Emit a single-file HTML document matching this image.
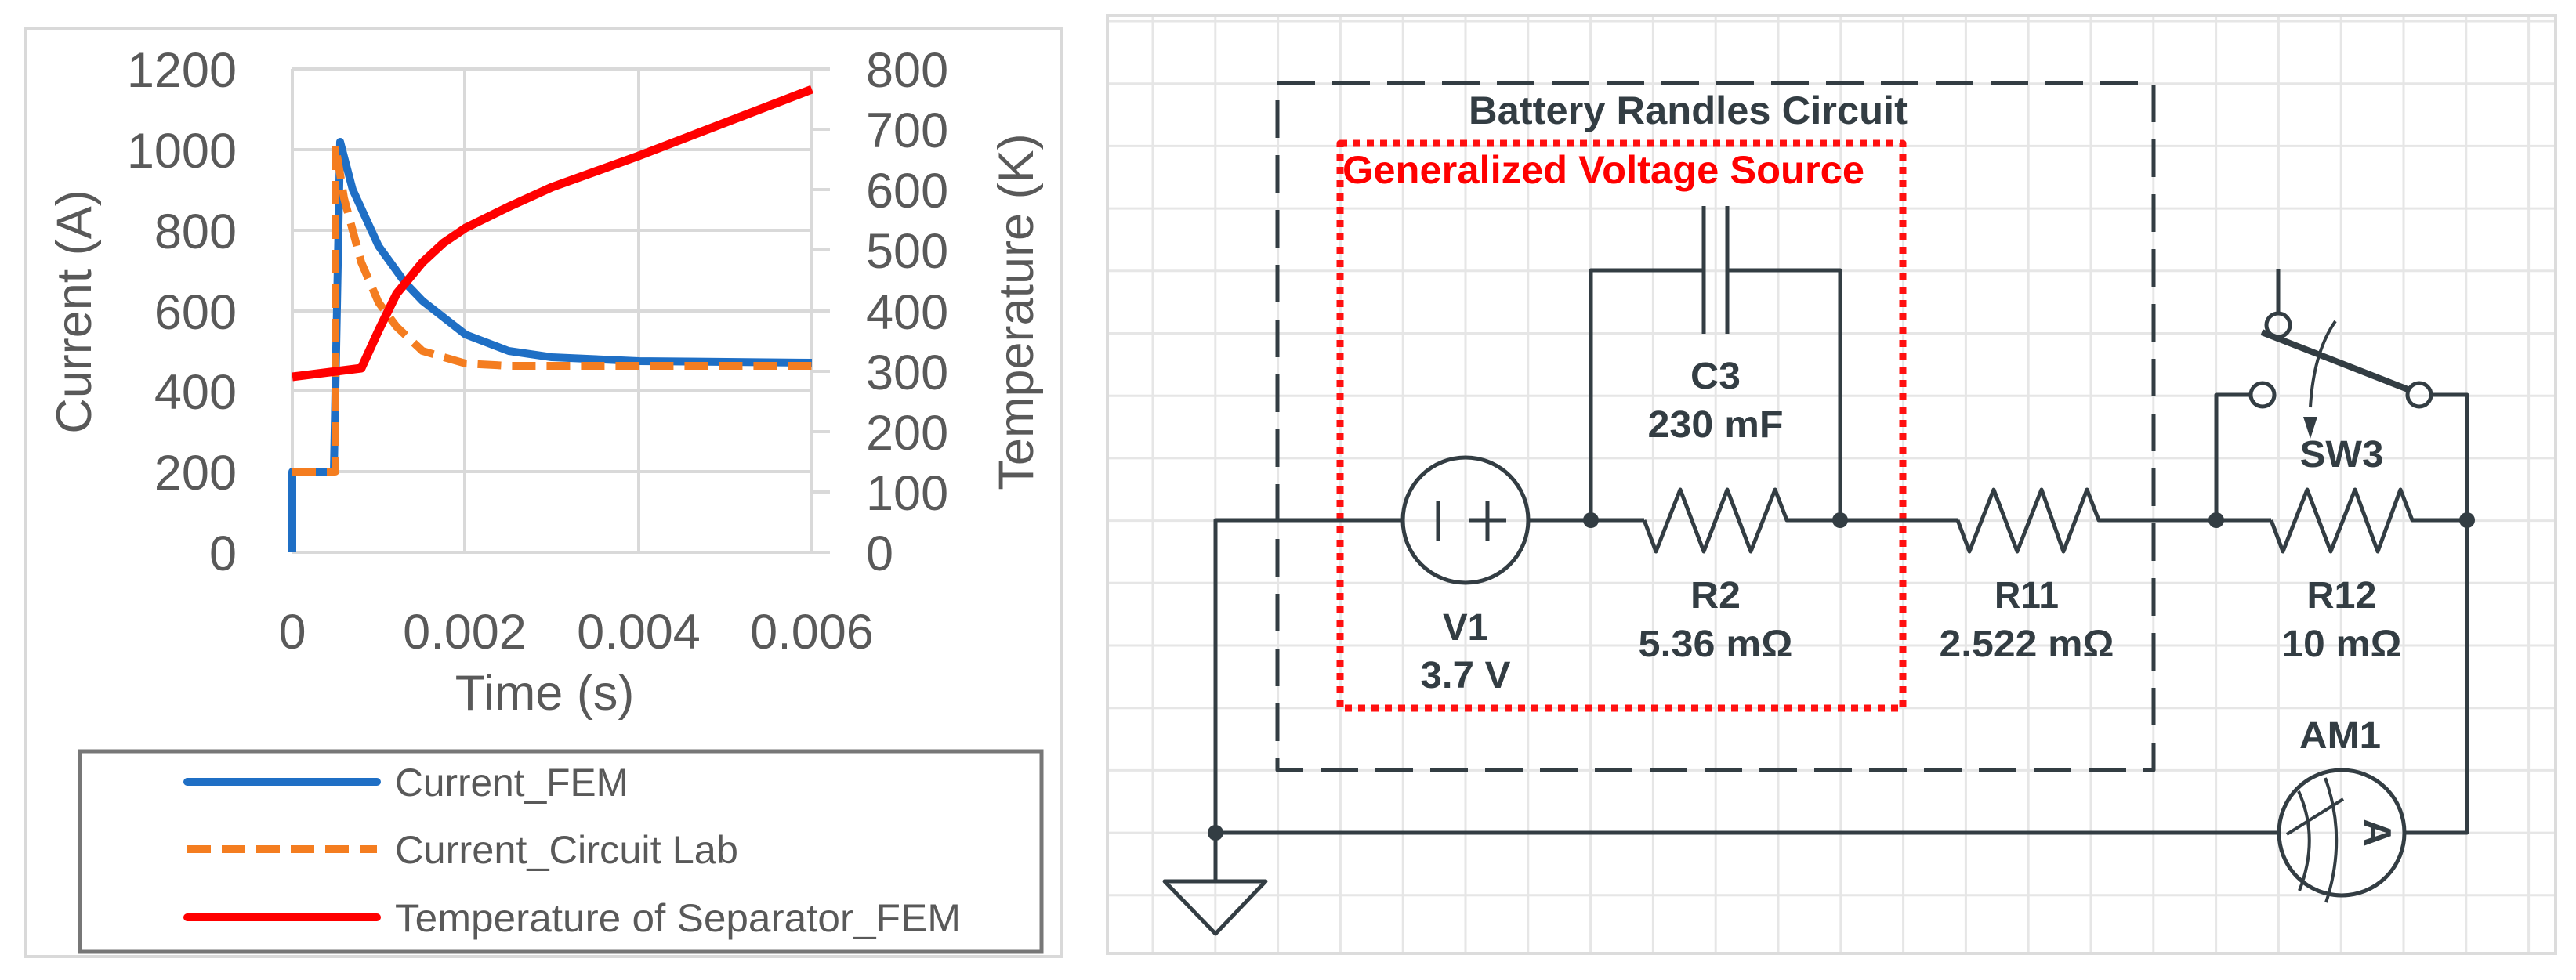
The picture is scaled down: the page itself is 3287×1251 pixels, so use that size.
<!DOCTYPE html>
<html><head><meta charset="utf-8"><style>
html,body{margin:0;padding:0;background:#fff;}
svg{display:block;}
.t{font-family:"Liberation Sans",Arial,sans-serif;fill:#595959;}
.c{font-family:"Liberation Sans Narrow","Liberation Sans",Arial,sans-serif;font-weight:bold;fill:#333d43;}
</style></head><body>
<svg width="3287" height="1251" viewBox="0 0 3287 1251" xmlns="http://www.w3.org/2000/svg">
<rect x="0" y="0" width="3287" height="1251" fill="#fff"/>
<rect x="32" y="36" width="1323" height="1185" fill="#fff" stroke="#d9d9d9" stroke-width="4"/>
<g stroke="#d9d9d9" stroke-width="4">
<line x1="373" y1="88" x2="1036" y2="88"/>
<line x1="373" y1="191" x2="1036" y2="191"/>
<line x1="373" y1="294" x2="1036" y2="294"/>
<line x1="373" y1="397" x2="1036" y2="397"/>
<line x1="373" y1="499" x2="1036" y2="499"/>
<line x1="373" y1="602" x2="1036" y2="602"/>
<line x1="373" y1="705" x2="1036" y2="705"/>
<line x1="373" y1="88" x2="373" y2="705"/>
<line x1="593" y1="88" x2="593" y2="705"/>
<line x1="815" y1="88" x2="815" y2="705"/>
<line x1="1036" y1="88" x2="1036" y2="705"/>
<line x1="1036" y1="88" x2="1059" y2="88"/>
<line x1="1036" y1="165" x2="1059" y2="165"/>
<line x1="1036" y1="242" x2="1059" y2="242"/>
<line x1="1036" y1="319" x2="1059" y2="319"/>
<line x1="1036" y1="397" x2="1059" y2="397"/>
<line x1="1036" y1="474" x2="1059" y2="474"/>
<line x1="1036" y1="551" x2="1059" y2="551"/>
<line x1="1036" y1="628" x2="1059" y2="628"/>
<line x1="1036" y1="705" x2="1059" y2="705"/>
</g>
<g class="t" font-size="63" text-anchor="end">
<text x="302" y="111">1200</text>
<text x="302" y="214">1000</text>
<text x="302" y="317">800</text>
<text x="302" y="420">600</text>
<text x="302" y="522">400</text>
<text x="302" y="625">200</text>
<text x="302" y="728">0</text>
</g>
<g class="t" font-size="63" text-anchor="start">
<text x="1105" y="111">800</text>
<text x="1105" y="188">700</text>
<text x="1105" y="265">600</text>
<text x="1105" y="342">500</text>
<text x="1105" y="420">400</text>
<text x="1105" y="497">300</text>
<text x="1105" y="574">200</text>
<text x="1105" y="651">100</text>
<text x="1105" y="728">0</text>
</g>
<g class="t" font-size="63" text-anchor="middle">
<text x="373" y="828">0</text>
<text x="593" y="828">0.002</text>
<text x="815" y="828">0.004</text>
<text x="1036" y="828">0.006</text>
<text x="695" y="906">Time (s)</text>
<text transform="translate(116,398) rotate(-90)">Current (A)</text>
<text transform="translate(1318,398) rotate(-90)">Temperature (K)</text>
</g>
<g fill="none" stroke-linejoin="round" stroke-width="10">
<polyline stroke="#1f6fc5" points="373,705 373,602 426,602 434,181 450,242 483,314 517,361 539,384 594,427 649,448 704,456 815,461 1036,463"/>
<polyline stroke="#f47d20" stroke-dasharray="30,14" points="373,602 428,602 428,186 439,253 461,335 483,386 506,417 539,448 594,464 649,467 1036,467"/>
<polyline stroke="#ff0000" stroke-width="11" points="373,481 461,470 483,422 506,375 539,335 566,310 594,291 649,264 704,239 815,199 1036,114"/>
</g>
<rect x="102" y="959" width="1227" height="256" fill="none" stroke="#777" stroke-width="5"/>
<line x1="239" y1="998" x2="481" y2="998" stroke="#1f6fc5" stroke-width="10" stroke-linecap="round"/>
<line x1="239" y1="1084" x2="481" y2="1084" stroke="#f47d20" stroke-width="10" stroke-dasharray="30,14"/>
<line x1="239" y1="1171" x2="481" y2="1171" stroke="#ff0000" stroke-width="10" stroke-linecap="round"/>
<g class="t" font-size="50">
<text x="504" y="1016" textLength="298" lengthAdjust="spacingAndGlyphs">Current_FEM</text>
<text x="504" y="1102" textLength="438" lengthAdjust="spacingAndGlyphs">Current_Circuit Lab</text>
<text x="504" y="1189" textLength="722" lengthAdjust="spacingAndGlyphs">Temperature of Separator_FEM</text>
</g>

<rect x="1413" y="20" width="1848" height="1197" fill="#fff" stroke="#dcdcdc" stroke-width="4"/>
<g stroke="#e6e6e6" stroke-width="3" id="grid"></g>
<g fill="none" stroke="#333d43" stroke-width="5" stroke-linejoin="round">
<rect x="1630" y="106" width="1118" height="877" stroke-dasharray="48,22"/>
<rect x="1710" y="183" width="718" height="721" stroke="#ff1010" stroke-width="9" stroke-dasharray="9,8"/>
<polyline points="1790,664 1551,664 1551,1125"/>
<line x1="1950" y1="664" x2="2098" y2="664"/>
<polyline points="2098,664 2113,704 2144,625 2174,704 2204,625 2234,704 2265,625 2280,664 2498,664"/>
<polyline points="2498,664 2513,704 2544,625 2574,704 2605,625 2633,704 2663,625 2678,664 2898,664"/>
<polyline points="2898,664 2913,704 2944,625 2974,704 3005,625 3034,704 3063,625 3078,664 3148,664 3148,1063 3068,1063"/>
<line x1="1551" y1="1063" x2="2908" y2="1063"/>
<polyline points="2030,664 2030,345 2174,345"/>
<polyline points="2204,345 2348,345 2348,664"/>
<line x1="2174" y1="263" x2="2174" y2="426"/>
<line x1="2204" y1="263" x2="2204" y2="426"/>
<circle cx="1870" cy="664" r="80"/>
<line x1="1835" y1="640" x2="1835" y2="690"/>
<line x1="1898" y1="640" x2="1898" y2="690"/>
<line x1="1874" y1="664" x2="1922" y2="664"/>
<polygon points="1486,1125 1615,1125 1551,1192"/>
<polyline points="2828,664 2828,504 2872,504"/>
<circle cx="2887" cy="504" r="15"/>
<circle cx="3087" cy="504" r="15"/>
<polyline points="3102,504 3148,504 3148,664"/>
<line x1="2907" y1="344" x2="2907" y2="400"/>
<circle cx="2907" cy="415" r="15"/>
<line x1="2886" y1="424" x2="3075" y2="498" stroke-width="8"/>
<path d="M2980,410 Q2952,450 2948,520" stroke-width="4"/>
<circle cx="2988" cy="1063" r="80"/>
<path d="M2933,1010 Q2960,1070 2934,1137" stroke-width="4"/>
<path d="M2967,993 Q2995,1070 2968,1152" stroke-width="4"/>
<line x1="2918" y1="1065" x2="2990" y2="1020" stroke-width="4"/>
</g>
<polygon points="2939,532 2957,532 2948,560" fill="#333d43"/>
<g fill="#333d43">
<circle cx="2030" cy="664" r="10"/>
<circle cx="2348" cy="664" r="10"/>
<circle cx="2828" cy="664" r="10"/>
<circle cx="3148" cy="664" r="10"/>
<circle cx="1551" cy="1063" r="10"/>
</g>
<g class="c" font-size="48" text-anchor="middle">
<text x="2154" y="158" font-size="50" textLength="560" lengthAdjust="spacingAndGlyphs">Battery Randles Circuit</text>
<text x="2046" y="234" font-size="50" textLength="666" lengthAdjust="spacingAndGlyphs" style="fill:#ff0000">Generalized Voltage Source</text>
<text x="2189" y="496" textLength="64" lengthAdjust="spacingAndGlyphs">C3</text>
<text x="2189" y="558" textLength="173" lengthAdjust="spacingAndGlyphs">230 mF</text>
<text x="2189" y="776" textLength="64" lengthAdjust="spacingAndGlyphs">R2</text>
<text x="2189" y="838" textLength="197" lengthAdjust="spacingAndGlyphs">5.36 mΩ</text>
<text x="1870" y="817" textLength="58" lengthAdjust="spacingAndGlyphs">V1</text>
<text x="1870" y="878" textLength="115" lengthAdjust="spacingAndGlyphs">3.7 V</text>
<text x="2586" y="776" textLength="82" lengthAdjust="spacingAndGlyphs">R11</text>
<text x="2586" y="838" textLength="223" lengthAdjust="spacingAndGlyphs">2.522 mΩ</text>
<text x="2988" y="776" textLength="89" lengthAdjust="spacingAndGlyphs">R12</text>
<text x="2988" y="838" textLength="153" lengthAdjust="spacingAndGlyphs">10 mΩ</text>
<text x="2988" y="596" textLength="107" lengthAdjust="spacingAndGlyphs">SW3</text>
<text x="2986" y="955" textLength="104" lengthAdjust="spacingAndGlyphs">AM1</text>
<text transform="translate(3016,1063) rotate(90)" font-size="50">A</text>
</g>
<script>
(function(){var g=document.getElementById('grid'),ns='http://www.w3.org/2000/svg';
for(var i=0;i<23;i++){var x=1471+i*79.8;var l=document.createElementNS(ns,'line');l.setAttribute('x1',x);l.setAttribute('x2',x);l.setAttribute('y1',22);l.setAttribute('y2',1215);g.appendChild(l);}
for(var j=0;j<15;j++){var y=27+j*79.7;var l=document.createElementNS(ns,'line');l.setAttribute('y1',y);l.setAttribute('y2',y);l.setAttribute('x1',1415);l.setAttribute('x2',3259);g.appendChild(l);}
})();
</script>
</svg>
</body></html>
